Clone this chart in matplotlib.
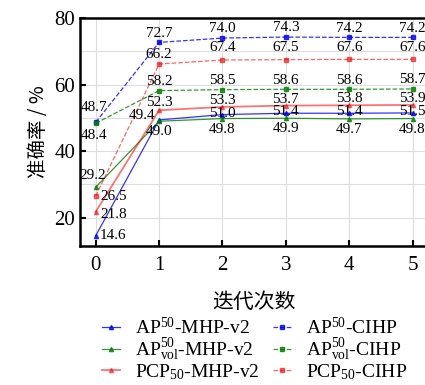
import matplotlib
matplotlib.use("Agg")
import matplotlib.pyplot as plt
from matplotlib.ticker import MultipleLocator

plt.rcParams['font.family'] = 'serif'
plt.rcParams['font.serif'] = ['Liberation Serif']
plt.rcParams['mathtext.fontset'] = 'custom'
plt.rcParams['mathtext.rm'] = 'Liberation Serif'
plt.rcParams['mathtext.it'] = 'Liberation Serif'

iterations = [0, 1, 2, 3, 4, 5]
ap50_mhp = [14.6, 49.4, 51.0, 51.4, 51.4, 51.5]
apvol_mhp = [29.2, 49.0, 49.8, 49.9, 49.7, 49.8]
pcp_mhp = [21.8, 52.3, 53.3, 53.7, 53.8, 53.9]
ap50_cihp = [48.7, 72.7, 74.0, 74.3, 74.2, 74.2]
apvol_cihp = [48.4, 58.2, 58.5, 58.6, 58.6, 58.7]
pcp_cihp = [26.5, 66.2, 67.4, 67.5, 67.6, 67.6]

labels_mhp = ['AP$^{50}$-MHP-v2', 'AP$^{50}_{\\mathrm{vol}}$-MHP-v2', 'PCP$_{50}$-MHP-v2']
labels_cihp = ['AP$^{50}$-CIHP', 'AP$^{50}_{\\mathrm{vol}}$-CIHP', 'PCP$_{50}$-CIHP']

fig = plt.figure(figsize=(4.25, 3.85), dpi=100)
ax = fig.add_axes([0.188, 0.361, 0.82, 0.592])

l1, = ax.plot(iterations, ap50_mhp, '-', color='blue', lw=0.9, marker='^', ms=3, alpha=0.8)
l3, = ax.plot(iterations, apvol_mhp, '-', color='green', lw=0.9, marker='^', ms=3, alpha=0.8)
l5, = ax.plot(iterations, pcp_mhp, '-', color='red', lw=1.3, marker='^', ms=3, alpha=0.55)
l2, = ax.plot(iterations, ap50_cihp, '--', color='blue', lw=0.9, marker='s', ms=3, alpha=0.8)
l4, = ax.plot(iterations, apvol_cihp, '--', color='green', lw=0.9, marker='s', ms=3, alpha=0.8)
l6, = ax.plot(iterations, pcp_cihp, '--', color='red', lw=0.9, marker='s', ms=3, alpha=0.6)

fs = 11
def lab(x, y, dx, dy, ha='center', va='center'):
    ax.annotate(f'{y:.1f}', (x, y), xytext=(dx, dy), textcoords='offset points',
                ha=ha, va=va, fontsize=fs, family='Liberation Serif')

# x=0
lab(0, ap50_cihp[0], -1, 6, 'center', 'bottom')
lab(0, apvol_cihp[0], -1, -4, 'center', 'top')
lab(0, apvol_mhp[0], -2, 4, 'center', 'bottom')
lab(0, pcp_cihp[0], 3, 0, 'left', 'center')
lab(0, pcp_mhp[0], 3, -2, 'left', 'center')
lab(0, ap50_mhp[0], 3, 0, 'left', 'center')
# x=1
lab(1, ap50_cihp[1], 0, 2, 'center', 'bottom')
lab(1, pcp_cihp[1], 0, 2, 'center', 'bottom')
lab(1, apvol_cihp[1], 0, 2, 'center', 'bottom')
lab(1, pcp_mhp[1], 0, 1, 'center', 'bottom')
lab(1, ap50_mhp[1], -3, 3, 'right', 'center')
lab(1, apvol_mhp[1], 0, -3, 'center', 'top')
# x>=2
for i in range(2, 6):
    lab(i, ap50_cihp[i], 0, 2, 'center', 'bottom')
    lab(i, pcp_cihp[i], 0, 4, 'center', 'bottom')
    lab(i, apvol_cihp[i], 0, 2, 'center', 'bottom')
    lab(i, pcp_mhp[i], 0, 0, 'center', 'bottom')
    lab(i, ap50_mhp[i], 0, 1, 'center', 'center')
    lab(i, apvol_mhp[i], 0, -3, 'center', 'top')

ax.set_xlim(-0.25, 5.25)
ax.set_ylim(11.5, 80)
ax.set_xticks(iterations)
ax.yaxis.set_major_locator(MultipleLocator(20))
ax.yaxis.set_minor_locator(MultipleLocator(10))
ax.grid(True, which='both', color='#dddddd', lw=0.8)
ax.set_axisbelow(True)
ax.tick_params(which='major', direction='in', labelsize=15, length=4, width=1.5)
ax.tick_params(axis='x', pad=7)
ax.tick_params(which='minor', length=0)
for t in ax.get_xticklabels() + ax.get_yticklabels():
    t.set_family('Liberation Serif')
for s in ax.spines.values():
    s.set_linewidth(1.8)

ax.set_xlabel('迭代次数', fontsize=15, family=['Noto Sans CJK SC'], labelpad=12)
ax.set_ylabel('准确率 / %', fontsize=14, family=['Noto Sans CJK SC', 'Liberation Serif'], labelpad=4)

fig.legend([l1, l3, l5, l2, l4, l6], labels_mhp + labels_cihp, ncol=2, loc='upper left',
           bbox_to_anchor=(0.24, 0.178), frameon=False, fontsize=14,
           handlelength=0.9, columnspacing=0.7, labelspacing=-0.05, handletextpad=0.8,
           borderpad=0, borderaxespad=0)

fig.savefig('out.png', dpi=100)
